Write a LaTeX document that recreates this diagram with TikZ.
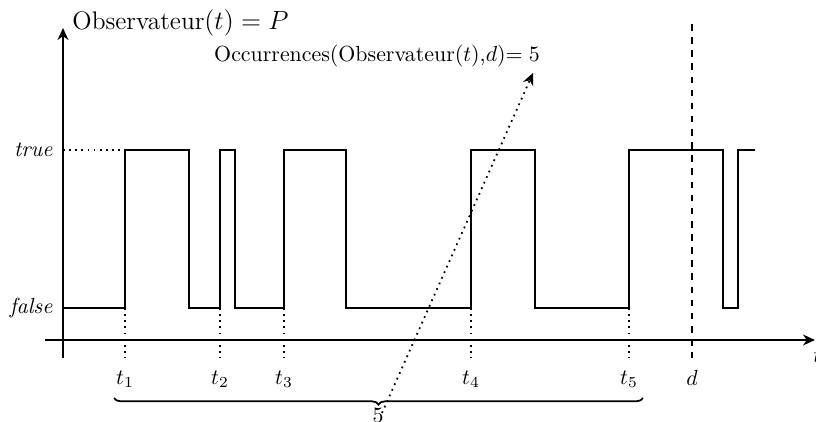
\documentclass[tikz,border=0pt]{standalone}
\usetikzlibrary{arrows.meta,decorations.pathreplacing}
\begin{document}
\begin{tikzpicture}[x=0.457pt,y=-0.457pt,
  axis/.style={thick,-{Stealth[length=5.5pt,width=5pt]}},
  sig/.style={thick},
  tick/.style={dotted,thick},
  lab/.style={inner sep=0pt}]
\useasboundingbox (0,0) rectangle (816,421);
% axes
\coordinate (yb) at (63,358);
\coordinate (yt) at (63,28);
\coordinate (xl) at (45,340);
\coordinate (xr) at (815,340);
\draw[axis] (yb) -- (yt);
\draw[axis] (xl) -- (xr);
\node[lab,anchor=west,font=\fontsize{11.6}{14}\selectfont] (ylab) at (72,23) {Observateur$(t)=P$};
\node[lab,anchor=west] (xlab) at (813,356) {$t$};
% levels
\node[lab,anchor=east] (true) at (53,150) {\textit{true}};
\node[lab,anchor=east] (false) at (53,308) {\textit{false}};
\coordinate (ty) at (63,150);
\coordinate (t1top) at (125,150);
\draw[tick] (ty) -- (t1top);
% signal
\draw[sig] (63,308) -- (125,308) -- (125,150) -- (189,150) -- (189,308)
  -- (220,308) -- (220,150) -- (235,150) -- (235,308)
  -- (284,308) -- (284,150) -- (346,150) -- (346,308)
  -- (471,308) -- (471,150) -- (535,150) -- (535,308)
  -- (629,308) -- (629,150) -- (723,150) -- (723,308)
  -- (738,308) -- (738,150) -- (755,150);
% ticks
\foreach \x/\n in {125/1,220/2,284/3,471/4,629/5}{
  \coordinate (a\n) at (\x,308);
  \coordinate (b\n) at (\x,358);
  \draw[tick] (a\n) -- (b\n);
  \node (tl\n) at (\x,379) {$t_{\n}$};
}
% d line
\coordinate (dtop) at (692,24);
\coordinate (dbot) at (692,358);
\draw[thick,dashed] (dtop) -- (dbot);
\node (dlab) at (692,378) {$d$};
% brace
\coordinate (bl) at (114,398);
\coordinate (br) at (643,398);
\draw[thick,decorate,decoration={brace,mirror,amplitude=3pt}] (bl) -- (br);
\node (five) at (378,415) {5};
% occurrences label
\node (occ) at (377,56) {Occurrences(Observateur$(t)$,$d$)$=5$};
\coordinate (arrs) at (382,413);
\coordinate (arre) at (533,73);
\draw[dotted,thick,-{Stealth[length=5.5pt,width=5pt]}] (arrs) -- (arre);
\end{tikzpicture}
\end{document}
